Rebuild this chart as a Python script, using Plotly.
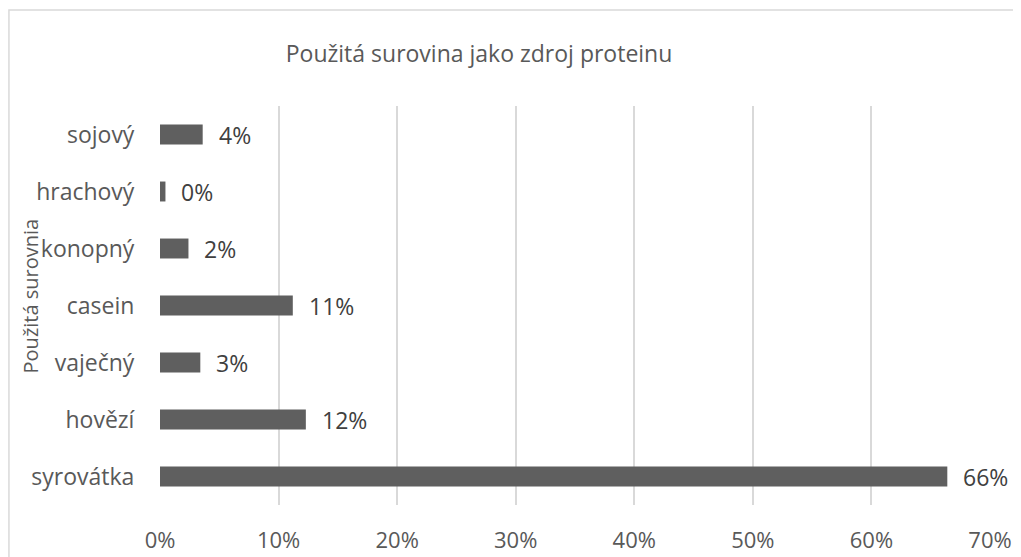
import plotly.graph_objects as go

# categories bottom -> top, shares
categories = ["syrovátka", "hovězí", "vaječný", "casein", "konopný", "hrachový", "sojový"]
shares = [0.664, 0.123, 0.034, 0.112, 0.024, 0.0046, 0.036]
x_ticks = [0, 0.1, 0.2, 0.3, 0.4, 0.5, 0.6, 0.7]
x_tick_labels = ["0%", "10%", "20%", "30%", "40%", "50%", "60%", "70%"]

font_family = "'Open Sans', sans-serif"
grey = "#595959"

fig = go.Figure()
fig.add_trace(go.Bar(
    x=shares,
    y=categories,
    orientation="h",
    marker=dict(color="#5f5f5f", line=dict(color="#5f5f5f", width=0)),
    width=0.35,
    hoverinfo="skip",
))

# data labels next to each bar
for c, v in zip(categories, shares):
    fig.add_annotation(
        x=v, y=c, xref="x", yref="y",
        text=f"{v:.0%}", showarrow=False,
        xanchor="left", xshift=14,
        font=dict(family=font_family, size=23, color="#404040"),
    )

# y axis title, placed by hand
fig.add_annotation(
    x=-0.156, y=0.524, xref="paper", yref="paper",
    text="Použitá surovnia", textangle=-90, showarrow=False,
    xanchor="center", yanchor="middle",
    font=dict(family=font_family, size=20, color=grey),
)

# page body adds 8px, so the figure is 8px smaller than the window
fig.update_layout(
    width=1013, height=549,
    margin=dict(l=152, r=31, t=98, b=52, autoexpand=False),
    paper_bgcolor="white", plot_bgcolor="white",
    showlegend=False,
    font=dict(family=font_family, color=grey),
    title=dict(
        text="Použitá surovina jako zdroj proteinu",
        x=0.465, xanchor="center", y=0.916, yanchor="middle",
        font=dict(size=23, color=grey),
    ),
)
fig.update_xaxes(
    range=[0, 0.7], automargin=False,
    tickvals=x_ticks, ticktext=x_tick_labels,
    showgrid=True, gridcolor="#d9d9d9", gridwidth=2,
    zeroline=False, showline=False,
    ticks="outside", ticklen=16, tickcolor="rgba(0,0,0,0)",
    tickfont=dict(size=22, color=grey),
    fixedrange=True,
)
fig.update_yaxes(
    categoryorder="array", categoryarray=categories, automargin=False,
    showgrid=False, zeroline=False, showline=False,
    ticks="outside", ticklen=20, tickcolor="rgba(0,0,0,0)",
    tickfont=dict(size=23, color=grey),
    fixedrange=True,
)

# outer chart border
fig.add_shape(type="rect", xref="paper", yref="paper",
              x0=-0.182, x1=1.1, y0=-0.2, y1=1.2406,
              line=dict(color="#d9d9d9", width=1.5), layer="below")

fig.write_html("out.html")
